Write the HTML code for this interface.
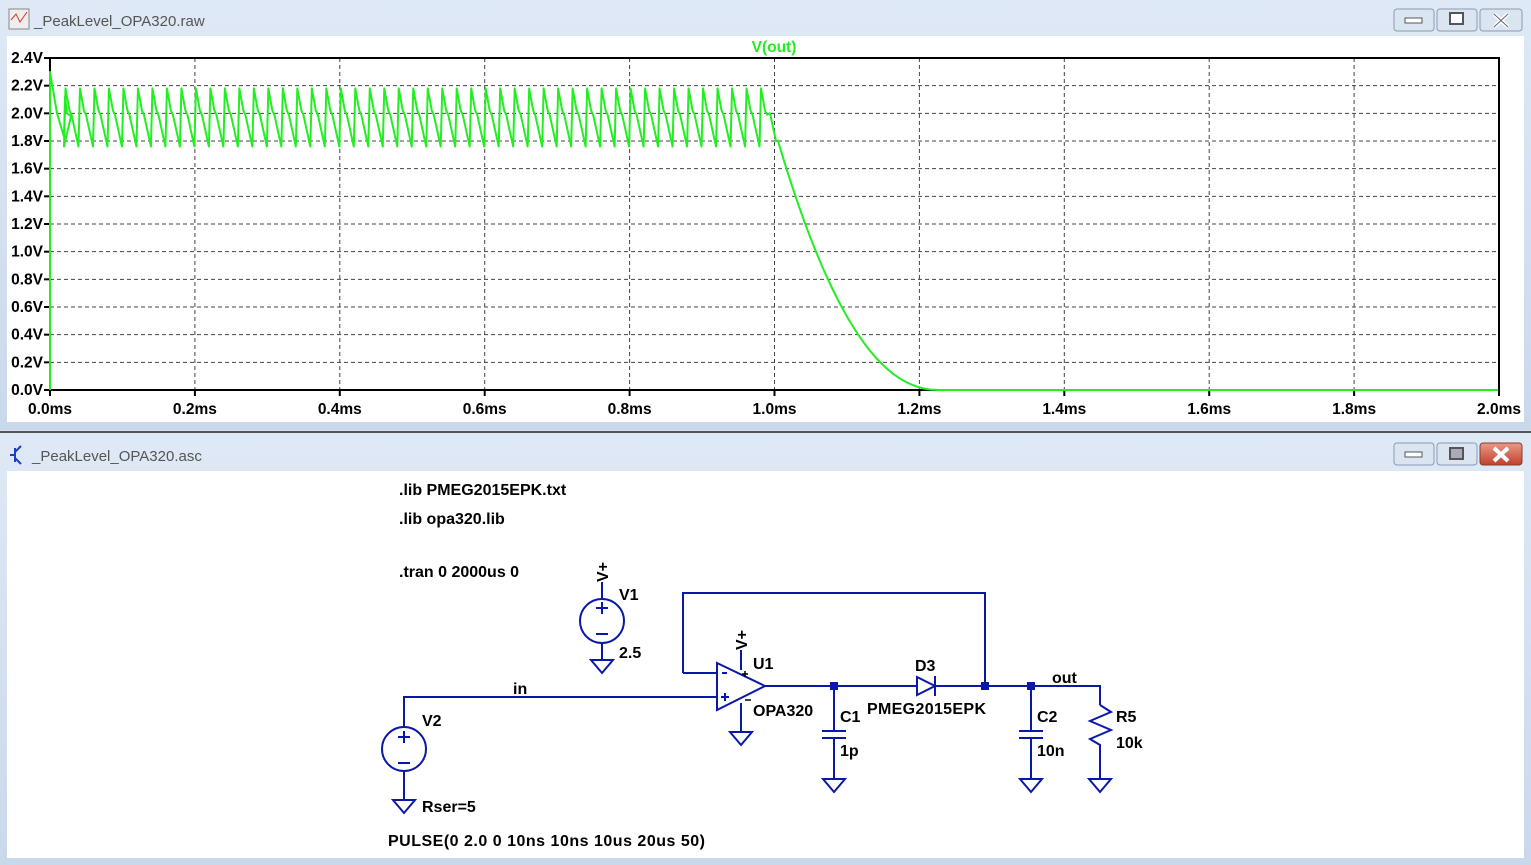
<!DOCTYPE html>
<html><head><meta charset="utf-8"><style>
html,body{margin:0;padding:0;width:1531px;height:865px;overflow:hidden;background:#d6e2f1;font-family:"Liberation Sans",sans-serif}
svg{position:absolute;left:0;top:0}
.t{font-family:"Liberation Sans",sans-serif;font-weight:bold;font-size:16px;fill:#000}
.a{font-family:"Liberation Sans",sans-serif;font-weight:bold;font-size:15.5px;fill:#000}
.title{font-family:"Liberation Sans",sans-serif;font-size:15px;fill:#555}
</style></head><body>
<svg width="1531" height="865" xmlns="http://www.w3.org/2000/svg">
<defs>
<linearGradient id="tb" x1="0" y1="0" x2="0" y2="1"><stop offset="0" stop-color="#dfe9f6"/><stop offset="1" stop-color="#c9d8eb"/></linearGradient>
<linearGradient id="rb" x1="0" y1="0" x2="0" y2="1"><stop offset="0" stop-color="#e89a88"/><stop offset="1" stop-color="#c0412c"/></linearGradient>
</defs>
<rect x="0" y="0" width="1531" height="430" fill="url(#tb)"/>
<rect x="7" y="36" width="1517" height="386" fill="#fff"/>
<rect x="9" y="9" width="20" height="20" fill="#eee" stroke="#888"/>
<path d="M11 20 L16 14 L20 22 L27 12" stroke="#d33" fill="none"/>
<text class="title" x="34" y="26">_PeakLevel_OPA320.raw</text>
<g stroke="#8a9ab0" fill="#dbe5f2"><rect x="1394" y="9" width="40" height="22" rx="3"/><rect x="1437" y="9" width="40" height="22" rx="3"/><rect x="1480" y="9" width="42" height="22" rx="3"/></g>
<rect x="1405" y="18" width="17" height="5" fill="#fff" stroke="#555"/>
<rect x="1450" y="13" width="13" height="11" fill="#fff" stroke="#555" stroke-width="2"/>
<path d="M1494 14 L1508 27 M1508 14 L1494 27" stroke="#fff" stroke-width="4"/><path d="M1494 14 L1508 27 M1508 14 L1494 27" stroke="#667" stroke-width="1"/>
<rect x="0" y="431" width="1531" height="2" fill="#555"/>
<rect x="0" y="433" width="1531" height="432" fill="url(#tb)"/>
<rect x="7" y="471" width="1517" height="387" fill="#fff"/>
<path d="M10 455 L15 455 M15 448 L15 462 M15 452 L21 446 M15 458 L21 464" stroke="#1a3fc8" stroke-width="2" fill="none"/>
<text class="title" x="32" y="461">_PeakLevel_OPA320.asc</text>
<g stroke="#8a9ab0" fill="#dbe5f2"><rect x="1394" y="443" width="40" height="22" rx="3"/><rect x="1437" y="443" width="40" height="22" rx="3"/></g>
<rect x="1480" y="443" width="42" height="22" rx="3" fill="url(#rb)" stroke="#8a3b2c"/>
<rect x="1405" y="452" width="17" height="5" fill="#fff" stroke="#555"/>
<rect x="1450" y="448" width="13" height="11" fill="#aab" stroke="#555" stroke-width="2"/>
<path d="M1494 448 L1508 461 M1508 448 L1494 461" stroke="#fff" stroke-width="4"/>
<g stroke="#444" stroke-dasharray="4,3" stroke-width="1" id="grid"></g>
<rect x="50" y="58" width="1449" height="332" fill="none" stroke="#000" stroke-width="2"/>
<g id="ticks" stroke="#000" stroke-width="2"></g>
<g id="labels"></g>
<text x="774" y="52" text-anchor="middle" style="font-family:'Liberation Sans';font-weight:bold;font-size:15.5px;fill:#22ee22">V(out)</text>
<path id="wave" fill="none" stroke="#22ee22" stroke-width="2" stroke-linejoin="round"/>
<g stroke="#0a18a8" stroke-width="2" fill="none">
<circle cx="404" cy="749" r="22"/>
<path d="M404 727 V697 H717"/>
<path d="M404 771 V800"/>
<path d="M393 800 H415 L404 813 Z"/>
<path d="M398 737 H410 M404 731 V743 M398 763 H410"/>
<circle cx="602" cy="621" r="22"/>
<path d="M602 599 V582"/>
<path d="M602 643 V660 M591 660 H613 L602 673 Z"/>
<path d="M596 608 H608 M602 602 V614 M596 634 H608"/>
<path d="M717 663 L765 686 L717 710 Z"/>
<path d="M683 673 H717 M683 673 V593 H985 V686"/>
<path d="M741 650 V670 M741 703 V732 M730 732 H752 L741 745 Z"/>
<path d="M722 673 H727 M721 697 H729 M725 693 V701"/>
<path d="M765 686 H917 M935 686 H1100 V705"/>
<path d="M917 677 L935 686 L917 695 Z M935 676 V696"/>
<path d="M834 686 V731 M822 731 H846 M822 738 H846 M834 738 V779 M823 779 H845 L834 792 Z"/>
<path d="M1031 686 V731 M1019 731 H1043 M1019 738 H1043 M1031 738 V779 M1020 779 H1042 L1031 792 Z"/>
<path d="M1100 705 L1111 712 L1090 721 L1111 730 L1090 739 L1100 745 V779 M1089 779 H1111 L1100 792 Z"/>
</g>
<g fill="#0a18a8"><rect x="830" y="682" width="8" height="8"/><rect x="981" y="682" width="8" height="8"/><rect x="1027" y="682" width="8" height="8"/></g>
<g stroke="#000" stroke-width="1.5"><path d="M745 671 V677 M742 674 H748 M745 700 H751"/></g>
<text class="t" transform="translate(608,582) rotate(-90)">V+</text>
<text class="t" transform="translate(747,650) rotate(-90)">V+</text>
<text class="t" x="399" y="495">.lib PMEG2015EPK.txt</text>
<text class="t" x="399" y="524">.lib opa320.lib</text>
<text class="t" x="399" y="577">.tran 0 2000us 0</text>
<text class="t" x="619" y="600">V1</text>
<text class="t" x="619" y="658">2.5</text>
<text class="t" x="513" y="694">in</text>
<text class="t" x="422" y="726">V2</text>
<text class="t" x="422" y="812">Rser=5</text>
<text class="t" x="388" y="846" textLength="317">PULSE(0 2.0 0 10ns 10ns 10us 20us 50)</text>
<text class="t" x="753" y="669">U1</text>
<text class="t" x="753" y="716">OPA320</text>
<text class="t" x="840" y="722">C1</text>
<text class="t" x="840" y="756">1p</text>
<text class="t" x="915" y="671">D3</text>
<text class="t" x="867" y="714" textLength="119">PMEG2015EPK</text>
<text class="t" x="1052" y="683">out</text>
<text class="t" x="1037" y="722">C2</text>
<text class="t" x="1037" y="756">10n</text>
<text class="t" x="1116" y="722">R5</text>
<text class="t" x="1116" y="748">10k</text>
</svg>
<script>
var ns="http://www.w3.org/2000/svg";
function el(p,n,a,t){var e=document.createElementNS(ns,n);for(var k in a)e.setAttribute(k,a[k]);if(t)e.textContent=t;document.getElementById(p).appendChild(e);}
var X0=50,W=1449,Y0=390,H=332;
for(var i=1;i<12;i++){var y=Y0-i*H/12;el("grid","line",{x1:X0,x2:X0+W,y1:y,y2:y});}
for(var i=1;i<10;i++){var x=X0+i*W/10;el("grid","line",{x1:x,x2:x,y1:58,y2:390});}
for(var i=0;i<=12;i++){var y=Y0-i*H/12;el("ticks","line",{x1:44,x2:50,y1:y,y2:y});
 el("labels","text",{x:43,y:y+5,"text-anchor":"end",class:"a"},(i*0.2).toFixed(1)+"V");}
for(var i=0;i<=10;i++){var x=X0+i*W/10;el("ticks","line",{x1:x,x2:x,y1:390,y2:396});
 el("labels","text",{x:x,y:414,"text-anchor":"middle",class:"a"},(i*0.2).toFixed(1)+"ms");}
function Y(v){return Y0-v*H/2.4;}
var P=W/100,d="M50 390 L50 "+Y(2.3)+" L57 "+Y(2.0)+" L64 "+Y(1.83)+" L65 "+Y(2.12)+" L67 "+Y(2.0)+" L71 "+Y(1.98);
for(var k=1;k<50;k++){var x0=X0+k*P;
 d+=" L"+(x0-0.5)+" "+Y(1.76)+" L"+(x0+1)+" "+Y(2.18)+" L"+(x0+5)+" "+Y(2.02)+" L"+(x0+7)+" "+Y(1.99);}
d+=" L770 "+Y(2.0)+" L776 "+Y(1.8);
for(var x=778;x<=1499;x+=2){var u=Math.max(0,1-(x-776)/164);var v=1.85*Math.pow(u,2.2);d+=" L"+x+" "+Y(v).toFixed(1);}
document.getElementById("wave").setAttribute("d",d);
</script>
</body></html>
